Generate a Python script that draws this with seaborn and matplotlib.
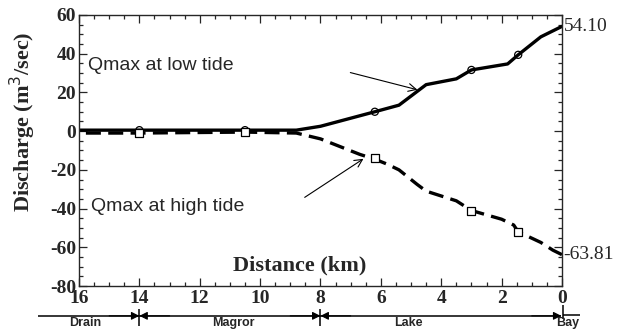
import matplotlib
matplotlib.use("Agg")
import matplotlib.pyplot as plt
import seaborn as sns
import pandas as pd
from matplotlib.ticker import MultipleLocator

# Qmax at low tide (solid line)
low_km = [16, 14, 10.5, 8.8, 8.0, 6.2, 5.4, 4.5, 3.5, 3.0, 1.8, 1.45, 0.7, 0]
low_q = [0.5, 0.5, 0.5, 0.5, 2.5, 10, 13.4, 24, 27, 31.6, 34.7, 39.4, 48.7, 54.1]

# Qmax at high tide (dashed line)
high_km = [16, 14, 10.5, 8.8, 8.0, 6.7, 6.2, 5.8, 5.4, 4.8, 4.5, 3.5, 3.0,
           2.0, 1.6, 1.45, 0.7, 0.3, 0]
high_q = [-1, -1, -0.5, -1, -4, -12, -14.5, -17, -20, -27.5, -31, -36, -41,
          -45.5, -48.5, -52, -57.5, -61.5, -63.81]

# marker stations
mark_km = [14, 10.5, 6.2, 3.0, 1.45]
mark_low = [0.5, 0.5, 10, 31.6, 39.4]
mark_high = [-1, -0.5, -14, -41, -52]

# reaches along the channel
reaches = ["Drain", "Magror", "Lake", "Bay"]
reach_label_km = [15.8, 10.9, 5.1, -0.2]

low = pd.DataFrame({"km": low_km, "q": low_q})
high = pd.DataFrame({"km": high_km, "q": high_q})
marks = pd.DataFrame({"km": mark_km, "low": mark_low, "high": mark_high})

sns.set_style("ticks")
plt.rcParams["font.family"] = ["Liberation Serif", "DejaVu Serif"]
plt.rcParams["axes.unicode_minus"] = False
sans = ["Liberation Sans", "DejaVu Sans"]

fig = plt.figure(figsize=(6.24, 3.33), dpi=100)
ax = fig.add_axes([0.1266, 0.1411, 0.774, 0.814])

sns.lineplot(data=low, x="km", y="q", ax=ax, color="black", lw=2.4)
sns.lineplot(data=high, x="km", y="q", ax=ax, color="black", lw=2.4,
             dashes=False, linestyle=(0, (4.5, 2.2)))
sns.scatterplot(data=marks, x="km", y="low", ax=ax, marker="o", s=26,
                facecolor="none", edgecolor="black", linewidth=0.9, zorder=5)
sns.scatterplot(data=marks, x="km", y="high", ax=ax, marker="s", s=26,
                facecolor="white", edgecolor="black", linewidth=0.9, zorder=5)

ax.set_xlim(16, 0)
ax.set_ylim(-80, 60)
ax.xaxis.set_major_locator(MultipleLocator(2))
ax.xaxis.set_minor_locator(MultipleLocator(0.5))
ax.yaxis.set_major_locator(MultipleLocator(20))
ax.yaxis.set_minor_locator(MultipleLocator(5))
ax.tick_params(which="both", direction="in", top=True, right=True, width=0.9)
ax.tick_params(which="major", length=6, labelsize=14, pad=2)
ax.tick_params(axis="x", which="major", pad=3)
ax.tick_params(which="minor", length=3)
for lab in ax.get_xticklabels() + ax.get_yticklabels():
    lab.set_fontweight("bold")
for sp in ax.spines.values():
    sp.set_linewidth(1.0)

ax.set_xlabel("")
ax.set_ylabel("Discharge (m$^3$/sec)", fontsize=16, fontweight="bold")
ax.yaxis.set_label_coords(-0.085, 0.605)

ax.text(8.68, -69.5, "Distance (km)", fontsize=16, fontweight="bold",
        ha="center", va="center")
ax.text(15.7, 34, "Qmax at low tide", fontsize=14, ha="left", va="center",
        family=sans)
ax.text(15.6, -39, "Qmax at high tide", fontsize=14, ha="left", va="center",
        family=sans)

ax.annotate("", xy=(4.7, 21), xytext=(7.1, 30.6),
            arrowprops=dict(arrowstyle="->", lw=0.8, color="black", mutation_scale=14))
ax.annotate("", xy=(6.5, -13.5), xytext=(8.6, -35),
            arrowprops=dict(arrowstyle="->", lw=0.8, color="black", mutation_scale=14))

ax.text(-0.05, 54.1, "54.10", fontsize=14, ha="left", va="center")
ax.text(-0.05, -63.81, "-63.81", fontsize=14, ha="left", va="center")

# reach bar below the axis, in a strip that shares the distance scale
bar = fig.add_axes([0.1266, 0.0, 0.774, 0.1], sharex=ax)
bar.set_ylim(0, 33)
bar.axis("off")
line = dict(color="black", lw=1.1, clip_on=False, solid_capstyle="butt")
bar.plot([17.36, 14], [17, 17], **line)
bar.plot([14, 8], [17, 17], **line)
bar.plot([8, 0.02], [17, 17], **line)
bar.plot([14, 14], [7, 24], **line)
bar.plot([8, 8], [7, 24], **line)
bar.plot([-0.05, -0.05], [14, 28], **line)
bar.plot([-0.05, -0.6], [18, 18], **line)
# arrowheads at each reach boundary (tip, tail)
heads = [(14, 15), (14, 13), (8, 9), (8, 7), (0.02, 1.0)]
for tip, tail in heads:
    bar.annotate("", xy=(tip, 17), xytext=(tail, 17), annotation_clip=False,
                 arrowprops=dict(arrowstyle="-|>", lw=0.8, color="black",
                                 shrinkA=0, shrinkB=0, mutation_scale=12))
for name, k in zip(reaches, reach_label_km):
    bar.text(k, 9.5, name, fontsize=9, fontweight="bold", ha="center",
             va="center", family=sans, clip_on=False)

fig.savefig("out.png", dpi=100)
